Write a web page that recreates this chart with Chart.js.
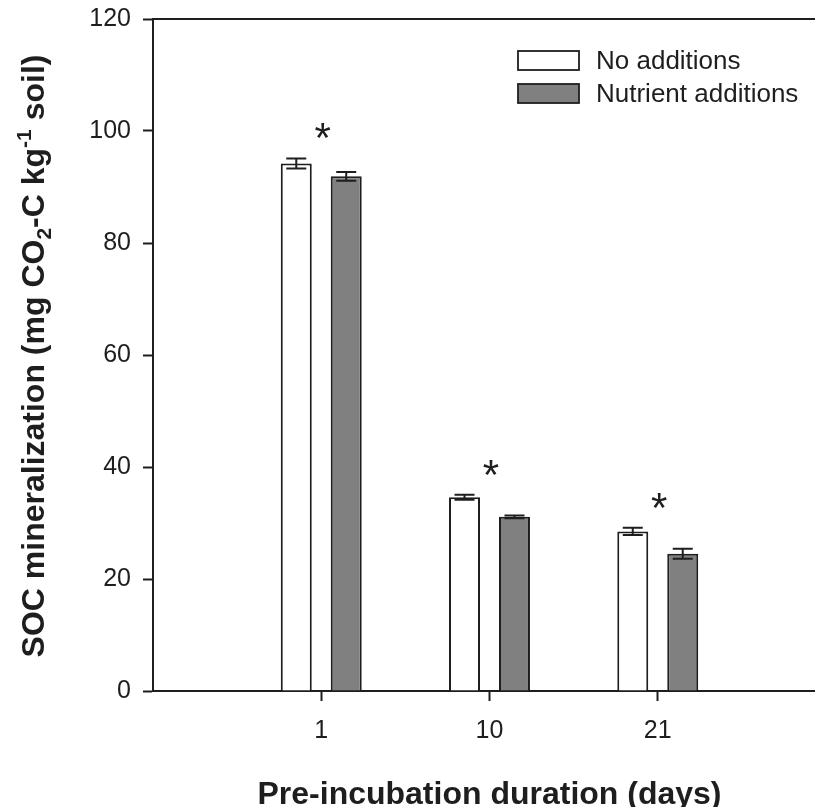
<!DOCTYPE html>
<html><head><meta charset="utf-8">
<script src="https://cdn.jsdelivr.net/npm/chart.js@4.4.1/dist/chart.umd.min.js"></script>
<style>
html,body{margin:0;padding:0;overflow:hidden;background:#fff;}
#wrap{width:826px;height:807px;position:relative;}
</style></head><body><div id="wrap"><canvas id="c"></canvas></div>
<script>
// ---- data ----
const categories = ['', '1', '10', '21', ''];
const noAdditions = [null, 94.2, 34.6, 28.5, null];
const noAdditionsErr = [null, 0.9, 0.45, 0.65, null];
const nutrientAdditions = [null, 91.9, 31.1, 24.5, null];
const nutrientAdditionsErr = [null, 0.8, 0.25, 0.9, null];
const significant = [false, true, true, true, false];
const seriesLabels = ['No additions', 'Nutrient additions'];
const yMin = 0, yMax = 120, yStep = 20;
const xTitle = 'Pre-incubation duration (days)';
const yTitleParts = [
  ['SOC mineralization (mg CO', 0], ['2', -1], ['-C kg', 0], ['-1', 1], [' soil)', 0]
];

const FONT = '"Liberation Sans", Arial, Helvetica, sans-serif';
const INK = '#1e1e1e';

const errorBars = {
  id: 'errorBars',
  afterDatasetsDraw(chart) {
    const ctx = chart.ctx, y = chart.scales.y;
    ctx.save();
    ctx.strokeStyle = INK; ctx.lineWidth = 2;
    chart.data.datasets.forEach((ds, di) => {
      const meta = chart.getDatasetMeta(di);
      meta.data.forEach((bar, i) => {
        const v = ds.data[i], e = ds.errors[i];
        if (v == null || e == null) return;
        const x = bar.x, yt = y.getPixelForValue(v + e), yb = y.getPixelForValue(v - e);
        const hw = 10;
        ctx.beginPath();
        ctx.moveTo(x, yt); ctx.lineTo(x, yb);
        ctx.moveTo(x - hw, yt); ctx.lineTo(x + hw, yt);
        ctx.moveTo(x - hw, yb); ctx.lineTo(x + hw, yb);
        ctx.stroke();
      });
    });
    // significance stars
    ctx.fillStyle = INK;
    ctx.font = '42px ' + FONT;
    ctx.textAlign = 'center'; ctx.textBaseline = 'alphabetic';
    const xs = chart.scales.x;
    significant.forEach((s, i) => {
      if (!s) return;
      let top = -Infinity;
      chart.data.datasets.forEach(ds => { if (ds.data[i] != null) top = Math.max(top, ds.data[i] + ds.errors[i]); });
      const cy = y.getPixelForValue(top) - 28;
      ctx.fillText('*', xs.getPixelForValue(i) + 1.5, cy + 22);
    });
    ctx.restore();
  }
};

const frame = {
  id: 'frame',
  afterDraw(chart) {
    const ctx = chart.ctx, a = chart.chartArea;
    ctx.save();
    ctx.strokeStyle = INK; ctx.lineWidth = 2;
    ctx.beginPath(); ctx.moveTo(a.left - 1, a.top); ctx.lineTo(a.right, a.top); ctx.stroke();
    // legend
    const lx = 518, ly = [51, 84], bw = 61, bh = 19;
    ctx.font = '26px ' + FONT; ctx.textAlign = 'left'; ctx.textBaseline = 'middle';
    chart.data.datasets.forEach((ds, i) => {
      ctx.fillStyle = ds.backgroundColor; ctx.fillRect(lx, ly[i], bw, bh);
      ctx.lineWidth = 1.8; ctx.strokeStyle = INK; ctx.strokeRect(lx, ly[i], bw, bh);
      ctx.fillStyle = INK; ctx.fillText(ds.label, 596, ly[i] + bh / 2 + 1);
    });
    // x title
    ctx.font = 'bold 32px ' + FONT; ctx.textAlign = 'center'; ctx.textBaseline = 'alphabetic';
    ctx.fillText(xTitle, (a.left + a.right) / 2, 804);
    // y title with sub/superscripts
    ctx.translate(43.5, (a.top + a.bottom) / 2 + 1);
    ctx.rotate(-Math.PI / 2);
    const big = 'bold 32px ' + FONT, small = 'bold 21px ' + FONT;
    let total = 0;
    yTitleParts.forEach(([t, k]) => { ctx.font = k ? small : big; total += ctx.measureText(t).width; });
    let x = -total / 2;
    ctx.textAlign = 'left';
    yTitleParts.forEach(([t, k]) => {
      ctx.font = k ? small : big;
      const dy = k === -1 ? 7 : (k === 1 ? -13 : 0);
      ctx.fillText(t, x, dy);
      x += ctx.measureText(t).width;
    });
    ctx.restore();
  }
};

new Chart(document.getElementById('c'), {
  type: 'bar',
  data: {
    labels: categories,
    datasets: [
      { label: seriesLabels[0], data: noAdditions, errors: noAdditionsErr,
        backgroundColor: '#ffffff', borderColor: INK, borderWidth: 2 },
      { label: seriesLabels[1], data: nutrientAdditions, errors: nutrientAdditionsErr,
        backgroundColor: '#808080', borderColor: INK, borderWidth: 2 }
    ]
  },
  options: {
    responsive: true, maintainAspectRatio: false, animation: false,
    categoryPercentage: 0.594, barPercentage: 0.62,
    layout: { padding: { top: 19, left: 0, right: 0, bottom: 0 } },
    plugins: { legend: { display: false }, tooltip: { enabled: false } },
    scales: {
      x: {
        offset: false,
        grid: { offset: false, drawOnChartArea: false, drawTicks: true, tickLength: 10, tickWidth: 2,
                tickColor: c => (categories[c.index] ? INK : 'rgba(0,0,0,0)') },
        border: { display: true, color: INK, width: 2 },
        ticks: { color: INK, font: { family: FONT, size: 25 }, padding: 15, maxRotation: 0, autoSkip: false },
        afterFit: s => { s.height = 116; s.paddingLeft = 0; s.paddingRight = 0; }
      },
      y: {
        min: yMin, max: yMax,
        grid: { drawOnChartArea: false, drawTicks: true, tickLength: 10, tickWidth: 2, tickColor: INK },
        border: { display: true, color: INK, width: 2 },
        ticks: { stepSize: yStep, color: INK, font: { family: FONT, size: 25 }, padding: 12 },
        afterFit: s => { s.width = 153; s.paddingTop = 0; s.paddingBottom = 0; }
      }
    }
  },
  plugins: [errorBars, frame]
});
</script></body></html>
